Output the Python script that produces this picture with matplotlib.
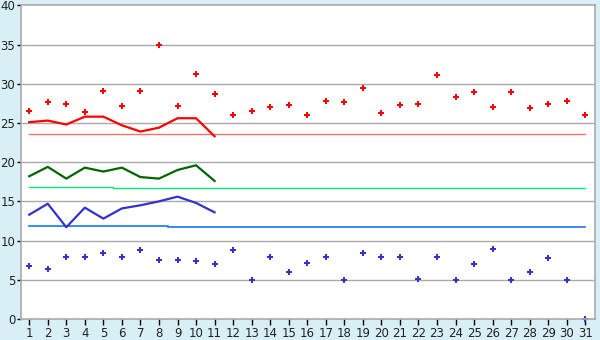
import numpy as np
import matplotlib.pyplot as plt

days = np.arange(1, 32)

high_pts = [26.5, 27.7, 27.4, 26.4, 29.1, 27.2, 29.1, 35.0, 27.2, 31.2,
            28.7, 26.0, 26.5, 27.0, 27.3, 26.0, 27.8, 27.7, 29.5, 26.3,
            27.3, 27.4, 31.1, 28.3, 29.0, 27.0, 29.0, 26.9, 27.4, 27.8, 26.0]
low_pts = [6.8, 6.4, 7.9, 7.9, 8.4, 7.9, 8.8, 7.5, 7.5, 7.4,
           7.0, 8.8, 5.0, 7.9, 6.0, 7.1, 7.9, 5.0, 8.4, 7.9,
           7.9, 5.1, 7.9, 5.0, 7.0, 8.9, 5.0, 6.0, 7.8, 5.0, 0.0]

line_days = np.arange(1, 12)
high_line = [25.1, 25.3, 24.8, 25.8, 25.8, 24.7, 23.9, 24.4, 25.6, 25.6, 23.3]
mid_line = [18.2, 19.4, 17.9, 19.3, 18.8, 19.3, 18.1, 17.9, 19.0, 19.6, 17.6]
low_line = [13.3, 14.7, 11.7, 14.2, 12.8, 14.1, 14.5, 15.0, 15.6, 14.8, 13.6]

# flat reference levels: (start day, end day, value)
red_ref = [(1, 31, 23.6)]
green_ref = [(1, 5.5, 16.8), (5.5, 31, 16.7)]
blue_ref = [(1, 8.5, 11.85), (8.5, 31, 11.7)]

fig = plt.figure(figsize=(6, 3.4), dpi=100, facecolor='#d9eff6')
ax = fig.add_axes([20.7 / 600, 21 / 340, 574.6 / 600, 313.7 / 340])
ax.set_facecolor('white')

for y in range(5, 40, 5):
    ax.axhline(y, color='#aaaaaa', lw=1, zorder=0)

for x0, x1, v in red_ref:
    ax.plot([x0, x1], [v, v], color='#ff7070', lw=1)
for x0, x1, v in green_ref:
    ax.plot([x0, x1], [v, v], color='#00ee77', lw=1)
for x0, x1, v in blue_ref:
    ax.plot([x0, x1], [v, v], color='#1a78e8', lw=1.2)

ax.plot(line_days, high_line, color='#ff0000', lw=1.6)
ax.plot(line_days, mid_line, color='#006600', lw=1.6)
ax.plot(line_days, low_line, color='#3333cc', lw=1.6)

ax.plot(days, high_pts, 'P', color='#ff0000', ms=5, mew=0, clip_on=False)
ax.plot(days, low_pts, 'P', color='#3333cc', ms=5, mew=0, clip_on=False)

ax.set_xlim(0.54, 31.54)
ax.set_ylim(0, 40)
ax.set_xticks(days)
ax.set_yticks(range(0, 41, 5))
ax.tick_params(axis='both', labelsize=8.5, length=4, width=1, color='black',
               labelcolor='#222222', pad=1.5)
ax.tick_params(axis='y', length=3, pad=1)
for s in ax.spines.values():
    s.set_color('#aaaaaa')
    s.set_linewidth(1.2)

fig.savefig('out.png', dpi=100, facecolor=fig.get_facecolor())
